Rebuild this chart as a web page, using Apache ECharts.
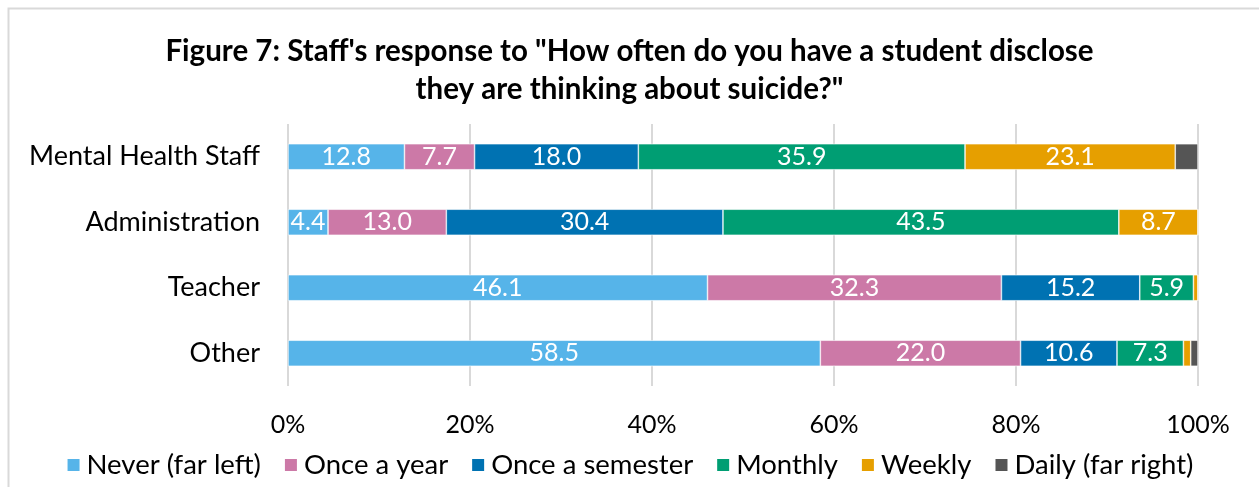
<!DOCTYPE html>
<html>
<head>
<meta charset="utf-8">
<script src="https://cdn.jsdelivr.net/npm/echarts@6/dist/echarts.min.js"></script>
<style>
  html, body { margin: 0; padding: 0; background: #fff; }
  #chart { width: 1259px; height: 487px; }
</style>
</head>
<body>
<div id="chart"></div>
<script>
// Staff groups, top to bottom
const categories = ['Mental Health Staff', 'Administration', 'Teacher', 'Other'];

// Percent of respondents per answer, in category order
const never = [12.8, 4.4, 46.1, 58.5];
const onceAYear = [7.7, 13.0, 32.3, 22.0];
const onceASemester = [18.0, 30.4, 15.2, 10.6];
const monthly = [35.9, 43.5, 5.9, 7.3];
const weekly = [23.1, 8.7, 0.5, 0.8];
const daily = [2.5, 0.0, 0.0, 0.8];

const seriesNames = ['Never (far left)', 'Once a year', 'Once a semester', 'Monthly', 'Weekly', 'Daily (far right)'];
const seriesData = [never, onceAYear, onceASemester, monthly, weekly, daily];
const colors = ['#56B4E9', '#CC79A7', '#0072B2', '#009E73', '#E69F00', '#555555'];

const FONT = 'Lato';

const chart = echarts.init(document.getElementById('chart'), null, { renderer: 'canvas' });

const series = seriesNames.map((name, i) => ({
  name,
  type: 'bar',
  stack: 'total',
  barWidth: 26,
  data: seriesData[i],
  itemStyle: { color: colors[i], borderColor: '#ffffff', borderWidth: 0.6 },
  label: {
    show: true,
    position: 'inside',
    color: '#ffffff',
    fontFamily: FONT,
    fontSize: 25,
    formatter: p => (p.value >= 3 ? p.value.toFixed(1) : '')
  },
  emphasis: { disabled: true }
}));

chart.setOption({
  animation: false,
  textStyle: { fontFamily: FONT },
  title: {
    text: 'Figure 7: Staff\'s response to "How often do you have a student disclose\nthey are thinking about suicide?"',
    left: 'center',
    top: 27,
    textStyle: { fontFamily: FONT, fontSize: 29.5, fontWeight: 'bold', color: '#000', lineHeight: 38 }
  },
  graphic: [{
    type: 'rect',
    shape: { x: 8.5, y: 8.5, width: 1400, height: 600 },
    style: { fill: 'none', stroke: '#D9D9D9', lineWidth: 2 },
    silent: true
  }],
  legend: {
    bottom: 3,
    left: 'center',
    itemWidth: 14,
    itemHeight: 14,
    itemGap: 22,
    icon: 'rect',
    data: seriesNames,
    textStyle: { fontFamily: FONT, fontSize: 27.5, color: '#000', padding: [0, 0, 0, 1] }
  },
  grid: { left: 288, right: 61, top: 124, bottom: 101, containLabel: false },
  xAxis: {
    type: 'value',
    min: 0,
    max: 100,
    interval: 20,
    axisLabel: { formatter: '{value}%', fontFamily: FONT, fontSize: 25, color: '#000', margin: 26 },
    axisLine: { show: false },
    axisTick: { show: false },
    splitLine: { show: true, lineStyle: { color: '#D9D9D9', width: 2 } }
  },
  yAxis: {
    type: 'category',
    data: categories,
    inverse: true,
    axisLabel: { fontFamily: FONT, fontSize: 27, color: '#000', margin: 28 },
    axisLine: { show: false },
    axisTick: { show: false }
  },
  series
});
</script>
</body>
</html>
